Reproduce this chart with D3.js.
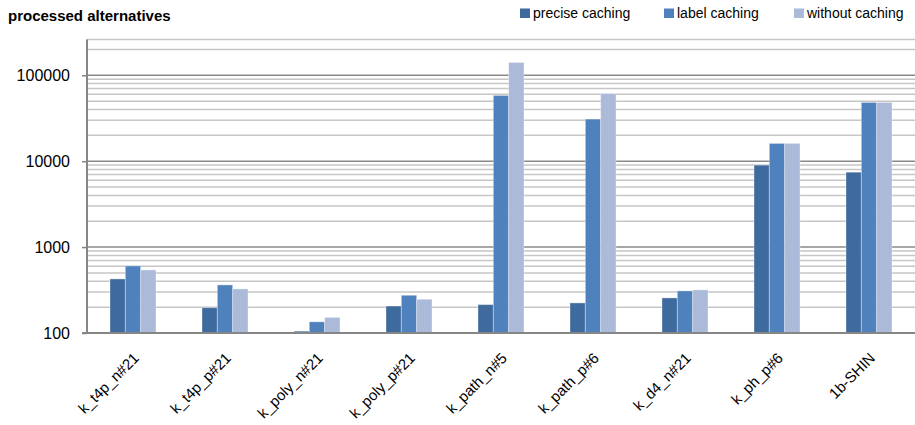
<!DOCTYPE html>
<html><head><meta charset="utf-8">
<script src="https://cdn.jsdelivr.net/npm/d3@7"></script>
<style>body{margin:0;background:#fff}svg{display:block}text{font-family:"Liberation Sans",Arial,sans-serif;fill:#000}</style>
</head><body><svg id="c" width="915" height="425"></svg>
<script>
const categories = ["k_t4p_n#21","k_t4p_p#21","k_poly_n#21","k_poly_p#21","k_path_n#5","k_path_p#6","k_d4_n#21","k_ph_p#6","1b-SHIN"];
const seriesNames = ["precise caching","label caching","without caching"];
const preciseCaching = [426, 197, 105, 206, 214, 224, 256, 9000, 7450];
const labelCaching   = [604, 363, 135, 275, 58300, 30900, 309, 16100, 48300];
const withoutCaching = [542, 326, 152, 247, 141000, 61000, 318, 16100, 48300];
const yTickLabels = ["100","1000","10000","100000"];
const yTickValues = [100, 1000, 10000, 100000];
const colors = ["#3F6A9D","#4F81BD","#AABAD8"];
const series = [preciseCaching, labelCaching, withoutCaching];

const svg = d3.select("#c");
const L = 87, R = 915, T = 39.5, B = 333;
const y = d3.scaleLog().domain([100, 261000]).range([B, T]);
const x = d3.scaleBand().domain(categories).range([L, R]).paddingInner(0.5).paddingOuter(0.25);
const xs = d3.scaleBand().domain(d3.range(3)).range([0, x.bandwidth()]);

// minor gridlines
const minor = [];
for (let d = 100; d < 1e6; d *= 10) for (let m = 2; m <= 9; m++) { const v = d*m; if (v <= 261000) minor.push(v); }
svg.append("g").selectAll("line").data(minor).join("line")
  .attr("x1", L).attr("x2", R).attr("y1", d => y(d)).attr("y2", d => y(d))
  .attr("stroke", "#C6C6C6").attr("stroke-width", 1.5);
svg.append("line").attr("x1", L).attr("x2", R).attr("y1", T).attr("y2", T).attr("stroke", "#C6C6C6").attr("stroke-width", 1.5);
// major gridlines
svg.append("g").selectAll("line").data(yTickValues.slice(1)).join("line")
  .attr("x1", L).attr("x2", R).attr("y1", d => y(d)).attr("y2", d => y(d))
  .attr("stroke", "#8A8A8A").attr("stroke-width", 1.5);

// bars
const g = svg.append("g");
series.forEach((s, si) => {
  g.append("g").selectAll("rect").data(s).join("rect")
    .attr("x", (d, i) => x(categories[i]) + xs(si))
    .attr("width", xs.bandwidth())
    .attr("y", d => y(d))
    .attr("height", d => B - y(d))
    .attr("fill", colors[si])
    .attr("stroke", "rgba(255,255,255,0.35)").attr("stroke-width", 1);
});

// y axis
const yAxis = d3.axisLeft(y).tickValues(yTickValues).tickFormat((d, i) => yTickLabels[i]).tickSize(5).tickPadding(12);
const ya = svg.append("g").attr("transform", `translate(${L},0)`).call(yAxis);
ya.select(".domain").remove();
ya.selectAll(".tick line").attr("stroke", "#868686").attr("stroke-width", 1.5);
ya.selectAll(".tick text").attr("font-size", 16).attr("font-family", "Liberation Sans, Arial, sans-serif").attr("fill", "#000");
svg.append("line").attr("x1", L).attr("x2", L).attr("y1", T).attr("y2", B + 1).attr("stroke", "#868686").attr("stroke-width", 2);

// x axis
const xAxis = d3.axisBottom(x).tickSize(0).tickPadding(0);
const xa = svg.append("g").attr("transform", `translate(0,${B})`).call(xAxis);
xa.select(".domain").remove();
xa.selectAll(".tick text")
  .attr("font-size", 15).attr("font-family", "Liberation Sans, Arial, sans-serif").attr("fill", "#000")
  .attr("text-anchor", "end").attr("dy", 0).attr("y", 0)
  .attr("transform", "translate(7,26) rotate(-45)");
svg.append("line").attr("x1", L - 5).attr("x2", R).attr("y1", B).attr("y2", B).attr("stroke", "#868686").attr("stroke-width", 2);

// title
svg.append("text").attr("x", 8).attr("y", 21).attr("font-size", 15).attr("font-weight", "bold").text("processed alternatives");

// legend
const legX = [520, 664, 794];
const leg = svg.append("g");
seriesNames.forEach((n, i) => {
  leg.append("rect").attr("x", legX[i]).attr("y", 8.5).attr("width", 10).attr("height", 9.5).attr("fill", colors[i]);
  leg.append("text").attr("x", legX[i] + 13).attr("y", 18).attr("font-size", 14).text(n);
});
</script></body></html>
